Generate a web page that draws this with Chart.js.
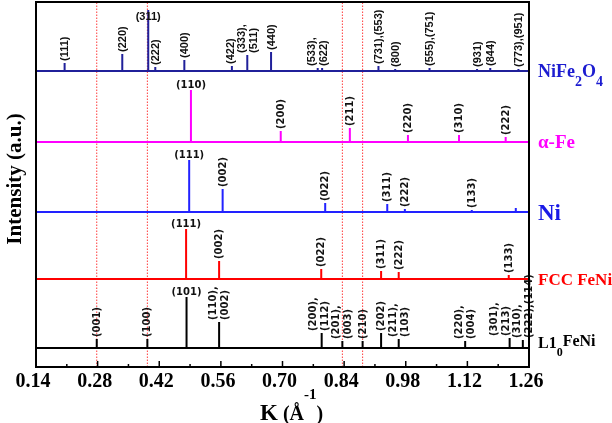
<!DOCTYPE html>
<html><head><meta charset="utf-8">
<script src="https://cdn.jsdelivr.net/npm/chart.js@4.4.1/dist/chart.umd.min.js"></script>
<style>html,body{margin:0;padding:0;background:#fff}#wrap{width:612px;height:423px;position:relative}</style>
</head><body><div id="wrap"><canvas id="c" width="612" height="423"></canvas></div>
<script>
// ---- axis ----
const xMin = 0.14, xMax = 1.26, xStep = 0.07;
const yMin = 0, yMax = 365;

// ---- vertical offsets of each pattern (intensity units) ----
const baseNiFe = 296, baseFe = 225, baseNi = 155, baseFCC = 88, baseL10 = 19;

// ---- NiFe2O4 ----
const nifeK = [0.205,0.336,0.395,0.411,0.477,0.585,0.620,0.674,0.780,0.790,0.918,0.956,1.034,1.142,1.172,1.236];
const nifeH = [8,17,61,4,11,5,16,19,3,3,5,2,3,2,3,2];
const nifeL = ['(111)','(220)','(311)','(222)','(400)','(422)','(333),\n(511)','(440)','(533),\n(622)','','(731),(553)','(800)','(555),(751)','(931)','(844)','(773),(951)'];

// ---- alpha-Fe ----
const feK = [0.492,0.696,0.853,0.985,1.101,1.207];
const feH = [52,11,14,7,7,5];
const feL = ['(110)','(200)','(211)','(220)','(310)','(222)'];

// ---- Ni ----
const niK = [0.488,0.564,0.797,0.938,0.978,1.130,1.230];
const niH = [52,23,9,8,3,2,4];
const niL = ['(111)','(002)','(022)','(311)','(222)','(133)',''];

// ---- FCC FeNi ----
const fccK = [0.481,0.556,0.788,0.924,0.964,1.214];
const fccH = [50,18,10,8,7,4];
const fccL = ['(111)','(002)','(022)','(311)','(222)','(133)'];

// ---- L1_0 FeNi ----
const l10K = [0.278,0.393,0.482,0.556,0.789,0.836,0.882,0.924,0.964,1.115,1.216,1.246];
const l10H = [9,9,51,26,15,7,7,15,9,7,10,8];
const l10L = ['(001)','(100)','(101)','(110),\n(002)','(200),\n(112)','(201),\n(003)','(210)','(202)','(211),\n(103)','(220),\n(004)','(301),\n(213)','(310),\n(222),(114)'];

// ---- red dotted reference lines ----
const refK = [0.278,0.393,0.836,0.882];

const series = [
  {k:nifeK,h:nifeH,lab:nifeL,base:baseNiFe,color:'#20209a',labFont:'bold 11px "Liberation Sans"',
   name:[{t:'NiFe',s:18,dy:0},{t:'2',s:14,dy:9},{t:'O',s:18,dy:0},{t:'4',s:14,dy:9}],nameColor:'#1c1cd0',nameDy:6},
  {k:feK,h:feH,lab:feL,base:baseFe,color:'#ff00ff',labFont:'bold 10px "DejaVu Sans"',
   name:[{t:'α-Fe',s:19,dy:0}],nameColor:'#ff00ff',nameDy:6},
  {k:niK,h:niH,lab:niL,base:baseNi,color:'#2222ff',labFont:'bold 10px "DejaVu Sans"',
   name:[{t:'Ni',s:23,dy:0}],nameColor:'#1a1ae6',nameDy:8},
  {k:fccK,h:fccH,lab:fccL,base:baseFCC,color:'#ff0000',labFont:'bold 10px "DejaVu Sans"',
   name:[{t:'FCC FeNi',s:17,dy:0}],nameColor:'#ff0000',nameDy:6},
  {k:l10K,h:l10H,lab:l10L,base:baseL10,color:'#000000',labFont:'bold 10px "DejaVu Sans"',
   name:[{t:'L1',s:16,dy:0},{t:'0',s:12,dy:8},{t:'FeNi',s:16,dy:-2}],nameColor:'#000000',nameDy:0}
];

function stickData(ks, hs, base){
  const idx = ks.map((_,i)=>i).sort((a,b)=>ks[a]-ks[b]);
  const pts = [{x:xMin,y:base}];
  idx.forEach(i=>{ pts.push({x:ks[i],y:base},{x:ks[i],y:base+hs[i]},{x:ks[i],y:base}); });
  pts.push({x:xMax,y:base});
  return pts;
}

const datasets = series.map(s=>({
  data: stickData(s.k,s.h,s.base), showLine:true, borderColor:s.color, backgroundColor:s.color,
  borderWidth:2, pointRadius:0, borderJoinStyle:'bevel', borderCapStyle:'butt', order:1, tension:0
}));
refK.forEach(k=>datasets.push({
  data:[{x:k,y:yMin},{x:k,y:yMax}], showLine:true, borderColor:'#ff3b3b', borderWidth:1,
  borderDash:[1.5,1.5], pointRadius:0, order:10
}));

const LINE_H = 12, GLYPH_H = 10;

const decor = {
  id:'decor',
  afterDraw(chart){
    const ctx = chart.ctx, a = chart.chartArea, xs = chart.scales.x, ys = chart.scales.y;
    ctx.save();
    series.forEach(s=>{
      const maxI = s.h.indexOf(Math.max(...s.h));
      ctx.fillStyle = '#111';
      ctx.font = s.labFont;
      // order labels from right to left to avoid overlaps of stacked rotated labels
      const order = s.k.map((_,i)=>i).sort((p,q)=>s.k[q]-s.k[p]);
      let leftLimit = Infinity;
      order.forEach(i=>{
        const txt = s.lab[i];
        if(!txt) return;
        const x = xs.getPixelForValue(s.k[i]);
        const yt = ys.getPixelForValue(s.base + s.h[i]);
        if(i===maxI){
          ctx.textAlign='center'; ctx.textBaseline='alphabetic';
          const yb = (yt - 12 < a.top + 4) ? yt + 10 : yt - 2;
          ctx.fillText(txt, x, yb);
          return;
        }
        const lines = txt.split('\n');
        const half = (lines.length-1)/2*LINE_H + GLYPH_H/2;
        let cx = x;
        if(cx + half > leftLimit - 1) cx = leftLimit - 1 - half;
        leftLimit = cx - half;
        ctx.save();
        ctx.translate(cx, yt - 2);
        ctx.rotate(-Math.PI/2);
        ctx.textAlign='left'; ctx.textBaseline='middle';
        lines.forEach((ln,j)=>ctx.fillText(ln, 0, (j-(lines.length-1)/2)*LINE_H + 0.5));
        ctx.restore();
      });
      // series name
      let nx = a.right + 9;
      const by = ys.getPixelForValue(s.base) + s.nameDy;
      ctx.fillStyle = s.nameColor; ctx.textAlign='left'; ctx.textBaseline='alphabetic';
      s.name.forEach(p=>{
        ctx.font = 'bold '+p.s+'px "Liberation Serif"';
        ctx.fillText(p.t, nx, by + p.dy);
        nx += ctx.measureText(p.t).width;
      });
    });
    // frame
    ctx.strokeStyle='#000'; ctx.lineWidth=2;
    ctx.strokeRect(a.left, a.top, a.right-a.left, a.bottom-a.top);
    // tick marks (inside, pointing up)
    ctx.lineWidth=1.5;
    xs.ticks.forEach((t,i)=>{
      const x = xs.getPixelForValue(t.value);
      const len = (i%2===0) ? 6 : 3;
      ctx.beginPath(); ctx.moveTo(x, a.bottom); ctx.lineTo(x, a.bottom-len); ctx.stroke();
    });
    // y title
    ctx.fillStyle='#000';
    ctx.save();
    ctx.translate(16, 179);
    ctx.rotate(-Math.PI/2);
    ctx.font='bold 21px "Liberation Serif"';
    ctx.textAlign='center'; ctx.textBaseline='middle';
    ctx.fillText('Intensity (a.u.)', 0, 0);
    ctx.restore();
    // x title
    const parts = [{t:'K',s:23,dy:0},{t:' (Å',s:20,dy:0},{t:'-1',s:15,dy:-21},{t:')',s:20,dy:0}];
    let tx = 260; const tb = 420;
    ctx.textAlign='left'; ctx.textBaseline='alphabetic';
    parts.forEach(p=>{
      ctx.font='bold '+p.s+'px "Liberation Serif"';
      ctx.fillText(p.t, tx, tb + p.dy);
      tx += ctx.measureText(p.t).width;
    });
    ctx.restore();
  }
};

new Chart(document.getElementById('c'), {
  type:'scatter',
  data:{datasets},
  options:{
    responsive:false, animation:false, devicePixelRatio:1,
    layout:{padding:{top:2,right:83,left:0,bottom:0}},
    plugins:{legend:{display:false}, tooltip:{enabled:false}},
    scales:{
      x:{type:'linear', min:xMin, max:xMax,
         ticks:{stepSize:xStep, autoSkip:false, maxRotation:0, minRotation:0, color:'#000', padding:3, labelOffset:-3,
                font:{family:'Liberation Serif', size:20, weight:'bold'},
                callback:(v,i)=> i%2===0 ? Number(v).toFixed(2) : ''},
         grid:{display:false, drawTicks:false}, border:{display:false},
         afterFit(s){ s.height = 56; }},
      y:{type:'linear', min:yMin, max:yMax,
         ticks:{display:false}, grid:{display:false, drawTicks:false}, border:{display:false},
         afterFit(s){ s.width = 36; }}
    }
  },
  plugins:[decor]
});
</script>
</body></html>
